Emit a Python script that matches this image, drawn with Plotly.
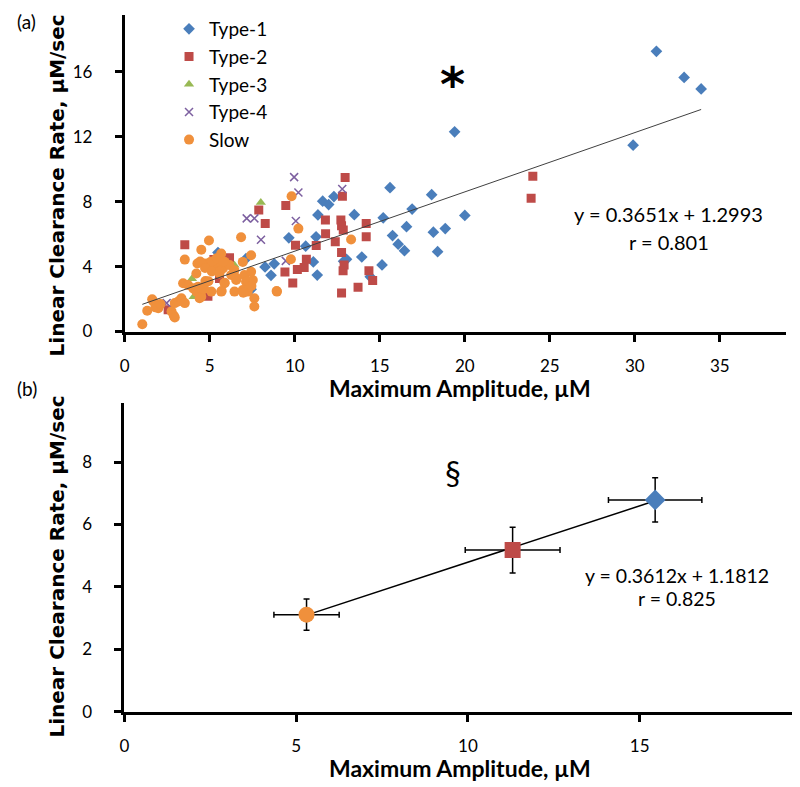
import plotly.graph_objects as go
import numpy as np

# ---------------- data (panel a) ----------------
type1_x = [19.4, 15.6, 18.05, 16.9, 20.0, 15.2, 13.5, 11.64, 11.99, 12.3, 11.36, 16.57, 18.85, 18.15,
           15.75, 16.08, 16.45, 18.4, 11.25, 10.64, 9.65, 13.94, 11.09, 12.87, 13.04, 15.13, 11.32,
           8.79, 8.25, 8.6, 14.44, 31.27, 32.9, 33.9, 29.9, 5.48, 7.13, 7.43]
type1_y = [12.3, 8.86, 8.43, 7.54, 7.15, 7.0, 7.2, 8.03, 7.82, 8.31, 7.18, 6.46, 6.34, 6.12,
           5.91, 5.38, 4.98, 4.92, 5.83, 5.26, 5.77, 4.59, 4.29, 4.33, 4.45, 4.1, 3.48,
           4.17, 3.98, 3.46, 3.37, 17.26, 15.65, 14.94, 11.48, 4.86, 4.49, 2.6]

type2_x = [24.0, 23.9, 12.96, 12.8, 9.47, 8.26, 11.8, 12.71, 14.2, 12.75, 12.85, 11.81, 14.2, 12.38,
           10.04, 11.26, 12.75, 10.68, 10.55, 10.15, 9.42, 12.9, 12.84, 14.36, 14.58, 9.88, 13.72,
           12.75, 3.53, 7.88, 5.24, 6.16, 5.57, 4.89, 2.55]
type2_y = [9.57, 8.21, 9.49, 8.33, 7.76, 6.66, 6.87, 6.87, 6.65, 6.52, 6.26, 6.02, 5.83, 5.53,
           5.32, 5.3, 4.86, 4.45, 3.94, 3.82, 3.66, 4.09, 3.74, 3.74, 3.15, 2.99, 2.72,
           2.38, 5.35, 7.48, 4.43, 4.55, 3.27, 2.18, 1.34]

type3_x = [8.0, 6.45, 3.95, 4.05]
type3_y = [7.95, 4.08, 3.25, 2.15]

type4_x = [9.96, 10.21, 12.79, 10.06, 8.01, 9.47, 7.17, 7.62, 2.46]
type4_y = [9.51, 8.56, 8.78, 6.81, 5.65, 4.35, 6.97, 6.97, 1.75]

slow_x = [1.03, 1.32, 1.61, 1.68, 1.8, 1.97, 2.1, 2.75, 2.88, 2.94, 2.94, 3.14, 3.33, 3.36, 3.53,
          3.43, 3.72, 3.53, 4.02, 4.21, 4.31, 4.5, 4.4, 4.66, 4.21, 4.5, 4.27, 4.7, 4.74, 4.95,
          4.89, 5.05, 5.28, 5.48, 5.67, 5.87, 5.77, 5.57, 5.67, 5.87, 6.16, 6.26, 6.45, 6.55, 6.45,
          6.84, 6.94, 7.04, 7.13, 6.94, 7.23, 7.33, 7.43, 7.53, 7.62, 7.62, 7.43, 8.95, 5.09, 4.43,
          5.12, 4.72, 4.24, 4.63, 4.92, 5.12, 5.41, 5.8, 5.57, 5.87, 5.7, 6.58, 6.97, 7.26, 7.45,
          9.81, 10.21, 13.31, 9.77, 8.93]
slow_y = [0.45, 1.28, 1.99, 1.85, 1.49, 1.44, 1.69, 1.24, 0.98, 0.87, 1.75, 1.85, 2.05, 1.89, 1.75,
          2.97, 2.87, 4.43, 2.66, 2.46, 2.76, 2.15, 2.05, 2.66, 3.58, 5.04, 4.19, 4.19, 3.11, 5.61,
          4.09, 4.29, 3.88, 4.29, 4.8, 4.29, 3.88, 3.58, 2.46, 2.97, 4.09, 3.48, 3.78, 3.17, 2.46,
          5.81, 4.29, 3.48, 3.07, 2.56, 2.46, 2.76, 4.7, 3.17, 2.05, 1.54, 3.68, 2.46, 2.46, 4.31,
          4.31, 3.91, 2.7, 2.6, 3.1, 3.7, 4.52, 4.31, 3.7, 3.0, 2.49, 3.3, 2.39, 3.1, 2.8,
          8.33, 6.34, 5.67, 4.45, 2.5]

fit_a_slope, fit_a_int = 0.3651, 1.2993
fit_a_text = ["y = 0.3651x + 1.2993", "r = 0.801"]

# ---------------- data (panel b) ----------------
mean_names = ["Slow", "Type-2", "Type-1"]
mean_x = [5.3, 11.3, 15.45]
mean_y = [3.11, 5.18, 6.79]
mean_xerr = [0.95, 1.38, 1.36]
mean_yerr = [0.5, 0.73, 0.71]
fit_b_slope, fit_b_int = 0.3612, 1.1812
fit_b_text = ["y = 0.3612x + 1.1812", "r = 0.825"]

# ---------------- styling ----------------
C_BLUE = "#4A7EBB"
C_RED = "#BE4B48"
C_GREEN = "#98B954"
C_PURPLE = "#7D60A0"
C_ORANGE = "#F0903C"
FONT = "Lato"
TITLE_Y_FONT = "DejaVu Sans"
W, H = 800, 787


def px(xp):
    return xp / W


def py(yp):
    return 1 - yp / H


fig = go.Figure()

series = [
    ("Type-1", type1_x, type1_y, "diamond", 9, C_BLUE),
    ("Type-2", type2_x, type2_y, "square", 9, C_RED),
    ("Type-3", type3_x, type3_y, "triangle-up", 9, C_GREEN),
    ("Type-4", type4_x, type4_y, "x-thin", 8, C_PURPLE),
    ("Slow", slow_x, slow_y, "circle", 10, C_ORANGE),
]
for name, xs, ys, sym, sz, col in series:
    mk = dict(symbol=sym, size=sz, color=col)
    if sym == "x-thin":
        mk["line"] = dict(color=col, width=1.5)
    else:
        mk["line"] = dict(width=0)
    fig.add_trace(go.Scatter(x=xs, y=ys, mode="markers", name=name, marker=mk,
                             xaxis="x", yaxis="y"))

all_x = np.array(type1_x + type2_x + type3_x + type4_x + slow_x)
lx = np.array([all_x.min(), all_x.max()])
fig.add_trace(go.Scatter(x=lx, y=fit_a_slope * lx + fit_a_int, mode="lines",
                         line=dict(color="#404040", width=1), showlegend=False,
                         xaxis="x", yaxis="y"))

# panel b
bx = np.array([min(mean_x), max(mean_x)])
fig.add_trace(go.Scatter(x=bx, y=fit_b_slope * bx + fit_b_int, mode="lines",
                         line=dict(color="black", width=1.5), showlegend=False,
                         xaxis="x2", yaxis="y2"))
b_styles = {"Slow": ("circle", 16, C_ORANGE), "Type-2": ("square", 16, C_RED),
            "Type-1": ("diamond", 16, C_BLUE)}
for i, nm in enumerate(mean_names):
    sym, sz, col = b_styles[nm]
    fig.add_trace(go.Scatter(
        x=[mean_x[i]], y=[mean_y[i]], mode="markers", showlegend=False,
        marker=dict(symbol=sym, size=sz, color=col, line=dict(width=0)),
        error_x=dict(type="data", array=[mean_xerr[i]], color="black", thickness=1.5, width=3),
        error_y=dict(type="data", array=[mean_yerr[i]], color="black", thickness=1.5, width=3),
        xaxis="x2", yaxis="y2"))

axis_common = dict(showline=True, linecolor="black", linewidth=3, ticks="outside",
                   ticklen=7, tickwidth=2.5, tickcolor="black", showgrid=False,
                   zeroline=False, tickfont=dict(family=FONT, size=17, color="black"))

fig.update_layout(
    width=W, height=H,
    margin=dict(l=0, r=0, t=0, b=0),
    paper_bgcolor="white", plot_bgcolor="white",
    font=dict(family=FONT, color="black"),
    xaxis=dict(domain=[px(112.5), px(778)], range=[0, 38.9],
               tickvals=[0, 5, 10, 15, 20, 25, 30, 35], anchor="y",
               ticklabelstandoff=10, **axis_common),
    yaxis=dict(domain=[py(327.7), py(7)], range=[0, 19.5],
               tickvals=[0, 4, 8, 12, 16], anchor="x",
               ticklabelstandoff=19, **axis_common),
    xaxis2=dict(domain=[px(112.2), px(800)], range=[0, 19.9],
                tickvals=[0, 5, 10, 15], anchor="y2",
                ticklabelstandoff=10, **axis_common),
    yaxis2=dict(domain=[py(712.7), py(400)], range=[0, 9.9],
                tickvals=[0, 2, 4, 6, 8], anchor="x2",
                ticklabelstandoff=19, **axis_common),
    legend=dict(x=px(157), y=py(2), xanchor="left", yanchor="top",
                font=dict(family=FONT, size=19, color="black"),
                bgcolor="rgba(0,0,0,0)", tracegroupgap=0, itemwidth=30),
)

ann = []
# axis titles
for ycen in [py(180), py(566)]:
    ann.append(dict(text="<b>Linear Clearance Rate, µM/sec</b>", xref="paper", yref="paper",
                    x=px(44), y=ycen, textangle=-90, showarrow=False,
                    font=dict(family=TITLE_Y_FONT, size=20, color="black"),
                    xanchor="center", yanchor="middle"))
for ycen in [py(385), py(770)]:
    ann.append(dict(text="<b>Maximum Amplitude, µM</b>", xref="paper", yref="paper",
                    x=px(450), y=ycen, showarrow=False,
                    font=dict(family=FONT, size=23, color="black"),
                    xanchor="center", yanchor="middle"))
ann.append(dict(text="(a)", xref="paper", yref="paper", x=px(2), y=py(14), showarrow=False,
                xanchor="left", yanchor="middle", font=dict(family=FONT, size=19, color="black")))
ann.append(dict(text="(b)", xref="paper", yref="paper", x=px(2), y=py(385), showarrow=False,
                xanchor="left", yanchor="middle", font=dict(family=FONT, size=19, color="black")))
# panel a texts
ann.append(dict(text="<b>*</b>", xref="x", yref="y", x=19.3, y=15.25, showarrow=False,
                font=dict(family="DejaVu Sans", size=48, color="black")))
ann.append(dict(text=fit_a_text[0], xref="x", yref="y", x=32.0, y=7.21, showarrow=False,
                font=dict(family=FONT, size=20, color="black")))
ann.append(dict(text=fit_a_text[1], xref="x", yref="y", x=32.0, y=5.51, showarrow=False,
                font=dict(family=FONT, size=20, color="black")))
# panel b texts
ann.append(dict(text="§", xref="x2", yref="y2", x=9.55, y=7.66, showarrow=False,
                font=dict(family=FONT, size=32, color="black")))
ann.append(dict(text=fit_b_text[0], xref="x2", yref="y2", x=16.1, y=4.36, showarrow=False,
                font=dict(family=FONT, size=19.5, color="black")))
ann.append(dict(text=fit_b_text[1], xref="x2", yref="y2", x=16.1, y=3.63, showarrow=False,
                font=dict(family=FONT, size=19.5, color="black")))
fig.update_layout(annotations=ann)

fig.write_html("out.html")
